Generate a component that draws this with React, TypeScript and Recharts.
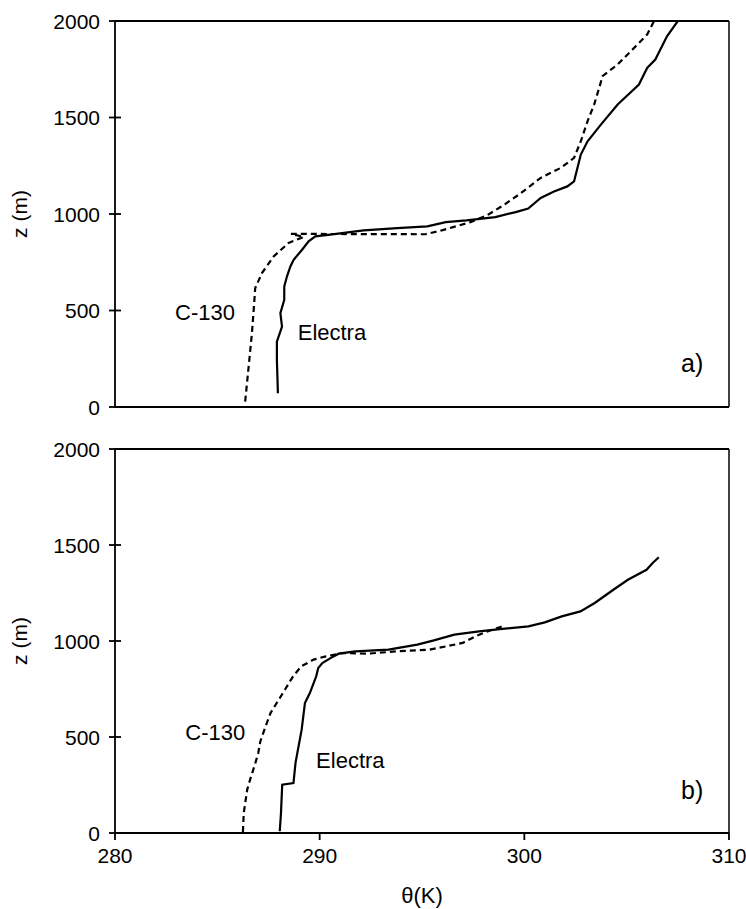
import {
  LineChart,
  Line,
  XAxis,
  YAxis,
  ReferenceLine,
  ReferenceDot,
} from 'recharts'

// potential temperature (K) and height (m)
const thetaTicks = [280, 290, 300, 310]
const zTicks = [0, 500, 1000, 1500, 2000]

const electraThetaA = [
  287.96, 287.91, 287.91, 288.16, 288.08, 288.27, 288.27, 288.4, 288.57, 288.73, 289.14, 289.46,
  289.79, 290.52, 292.15, 293.79, 295.26, 296.16, 297.17, 298.58, 299.58, 300.19, 300.8, 301.45,
  302.1, 302.43, 302.76, 303.09, 303.74, 304.56, 305.6, 306.0, 306.4, 306.97, 307.5,
]
const electraZA = [
  71, 244, 339, 417, 486, 555, 624, 676, 728, 763, 815, 858,
  884, 893, 915, 927, 936, 958, 967, 984, 1010, 1028, 1083, 1117,
  1143, 1169, 1308, 1377, 1463, 1567, 1671, 1757, 1800, 1921, 2000,
]

const c130ThetaA = [
  286.36, 286.53, 286.69, 286.8, 286.85, 287.18, 287.75, 288.48, 289.22, 288.6, 295.15, 295.96,
  296.56, 297.37, 298.17, 298.98, 299.79, 300.8, 301.78, 302.43, 302.76, 303.09, 303.41, 303.66,
  303.82, 304.56, 305.37, 306.0, 306.34,
]
const c130ZA = [
  28, 209, 382, 538, 616, 694, 780, 850, 881, 897, 895, 915,
  933, 958, 993, 1045, 1105, 1187, 1239, 1291, 1377, 1481, 1567, 1654,
  1714, 1775, 1861, 1930, 2000,
]

const electraThetaB = [
  288.05, 288.11, 288.17, 288.72, 288.82, 289.12, 289.28, 289.52, 289.83, 289.93, 290.13, 290.53,
  290.93, 291.74, 293.36, 294.77, 295.58, 296.58, 297.79, 298.8, 300.2, 301.0, 301.83, 302.74,
  303.44, 304.35, 305.06, 305.97, 306.27, 306.57,
]
const electraZB = [
  9, 104, 252, 260, 365, 538, 677, 729, 816, 859, 885, 911,
  934, 946, 955, 981, 1003, 1033, 1050, 1062, 1076, 1097, 1128, 1154,
  1198, 1267, 1319, 1371, 1406, 1436,
]

const c130ThetaB = [
  286.25, 286.29, 286.46, 286.6, 286.86, 287.0, 287.1, 287.3, 287.6, 287.9, 288.3, 288.7,
  289.1, 289.7, 290.3, 291.1, 292.35, 293.76, 295.37, 296.18, 296.99, 297.6, 298.2, 298.9, 299.0,
]
const c130ZB = [
  5, 104, 226, 278, 365, 417, 477, 538, 625, 677, 746, 816,
  868, 903, 920, 937, 934, 946, 955, 972, 990, 1024, 1050, 1076, 1085,
]

const toPoints = (theta: number[], z: number[]) => theta.map((t, i) => ({ theta: t, z: z[i] }))

const electraA = toPoints(electraThetaA, electraZA)
const c130A = toPoints(c130ThetaA, c130ZA)
const electraB = toPoints(electraThetaB, electraZB)
const c130B = toPoints(c130ThetaB, c130ZB)

const TICK_SIZE = 6
const TICK_MARGIN = 9
const FONT = '"Liberation Sans", Arial, sans-serif'

// y tick that crosses the axis line, like the original figure
function YTick(props: any) {
  const { x, y, payload } = props
  const axisX = x + TICK_SIZE + TICK_MARGIN
  return (
    <g>
      <line x1={axisX} x2={axisX + TICK_SIZE} y1={y} y2={y} stroke="#000" strokeWidth={1.8} />
      <text x={x} y={y} dy="0.36em" textAnchor="end" fontSize={21} fill="#000">
        {payload.value}
      </text>
    </g>
  )
}

interface PanelProps {
  electra: { theta: number; z: number }[]
  c130: { theta: number; z: number }[]
  tag: string
  c130Label: [number, number]
  electraLabel: [number, number]
  tagPos: [number, number]
  showX: boolean
}

function Panel({ electra, c130, tag, c130Label, electraLabel, tagPos, showX }: PanelProps) {
  const xHeight = showX ? 74 : 30
  const height = showX ? 481 : 440
  return (
    <LineChart
      width={746}
      height={height}
      margin={{ top: 21, right: 17, left: 0, bottom: showX ? 2 : 3 }}
    >
      <XAxis
        type="number"
        dataKey="theta"
        domain={[280, 310]}
        ticks={thetaTicks}
        allowDataOverflow
        height={xHeight}
        tickSize={7}
        tickMargin={8}
        axisLine={{ stroke: '#000', strokeWidth: 1.8 }}
        tickLine={{ stroke: '#000', strokeWidth: 1.8 }}
        tick={showX ? { fill: '#000', fontSize: 21 } : false}
        label={
          showX
            ? { value: 'θ(K)', position: 'insideBottom', offset: 4, fontSize: 22, fill: '#000' }
            : undefined
        }
      />
      <YAxis
        type="number"
        dataKey="z"
        domain={[0, 2000]}
        ticks={zTicks}
        allowDataOverflow
        width={115}
        tickSize={TICK_SIZE}
        tickMargin={TICK_MARGIN}
        axisLine={{ stroke: '#000', strokeWidth: 1.8 }}
        tickLine={{ stroke: '#000', strokeWidth: 1.8 }}
        tick={<YTick />}
        label={{
          value: 'z (m)',
          angle: -90,
          position: 'insideLeft',
          offset: 20,
          fontSize: 21,
          fill: '#000',
          style: { textAnchor: 'middle' },
        }}
      />
      <ReferenceLine y={2000} stroke="#000" strokeWidth={1.8} />
      <ReferenceLine x={310} stroke="#000" strokeWidth={1.5} />
      <Line
        data={c130}
        dataKey="z"
        type="linear"
        stroke="#000"
        strokeWidth={2.2}
        strokeDasharray="6 4"
        dot={false}
        isAnimationActive={false}
      />
      <Line
        data={electra}
        dataKey="z"
        type="linear"
        stroke="#000"
        strokeWidth={2.2}
        dot={false}
        isAnimationActive={false}
      />
      <ReferenceDot
        x={c130Label[0]}
        y={c130Label[1]}
        r={0}
        fill="none"
        stroke="none"
        label={{ value: 'C-130', position: 'center', fontSize: 22, fill: '#000' }}
      />
      <ReferenceDot
        x={electraLabel[0]}
        y={electraLabel[1]}
        r={0}
        fill="none"
        stroke="none"
        label={{ value: 'Electra', position: 'center', fontSize: 22, fill: '#000' }}
      />
      <ReferenceDot
        x={tagPos[0]}
        y={tagPos[1]}
        r={0}
        fill="none"
        stroke="none"
        label={{ value: tag, position: 'center', fontSize: 25, fill: '#000' }}
      />
    </LineChart>
  )
}

export default function App() {
  return (
    <div
      style={{
        position: 'absolute',
        left: 0,
        top: 0,
        width: 746,
        height: 909,
        background: '#fff',
        fontFamily: FONT,
      }}
    >
      <div style={{ position: 'absolute', left: 0, top: 0 }}>
        <Panel
          electra={electraA}
          c130={c130A}
          tag="a)"
          c130Label={[284.4, 493]}
          electraLabel={[290.6, 389]}
          tagPos={[308.2, 228]}
          showX={false}
        />
      </div>
      <div style={{ position: 'absolute', left: 0, top: 428 }}>
        <Panel
          electra={electraB}
          c130={c130B}
          tag="b)"
          c130Label={[284.9, 526]}
          electraLabel={[291.5, 380]}
          tagPos={[308.2, 224]}
          showX
        />
      </div>
    </div>
  )
}
